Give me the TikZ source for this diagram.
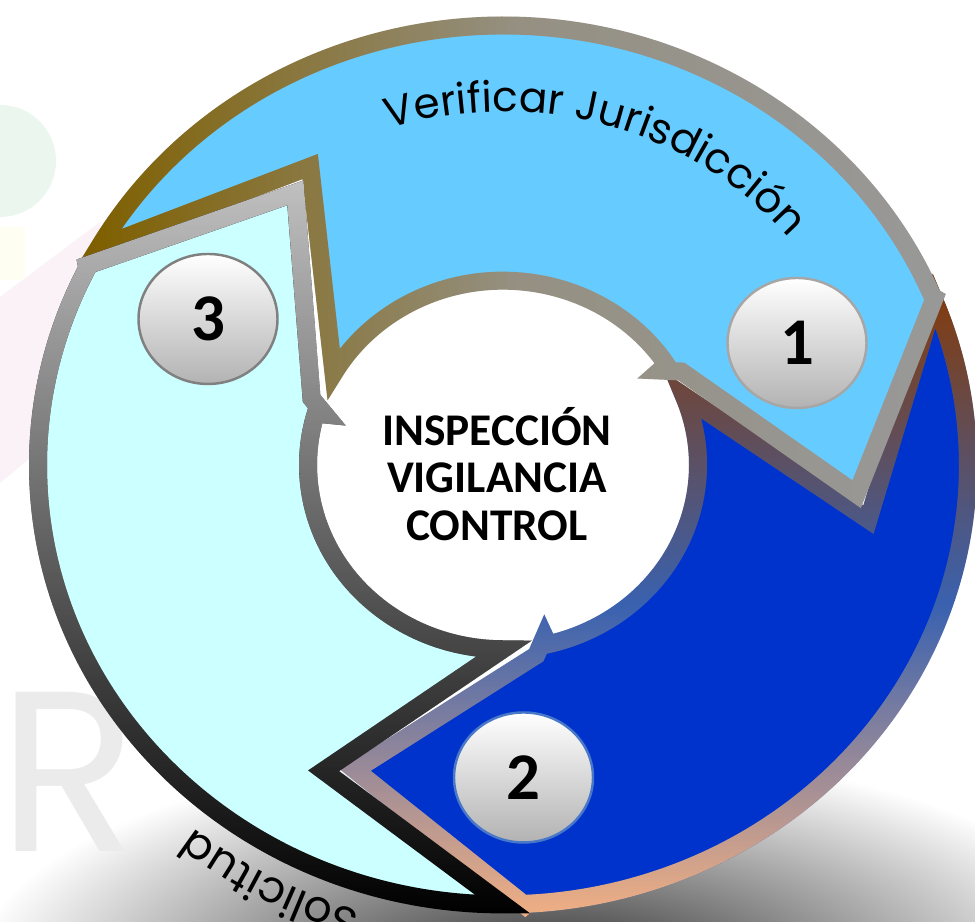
\documentclass[tikz,border=0pt]{standalone}
\usepackage{fontspec}
\setmainfont{Carlito}
\newfontfamily\gothic{Poppins}
\usepackage{tikz}
\usetikzlibrary{positioning}
\usetikzlibrary{shapes,fit}
\usetikzlibrary{decorations.text,fadings}

\definecolor{fillone}{HTML}{66CCFF}
\definecolor{filltwo}{HTML}{0033CC}
\definecolor{fillthree}{HTML}{CCFFFF}
\definecolor{lineolive}{HTML}{7F6000}
\definecolor{linegray}{HTML}{999999}
\definecolor{linebrown}{HTML}{843C0C}
\definecolor{lineblue}{HTML}{3A62B0}
\definecolor{linepeach}{HTML}{F4B183}
\definecolor{linelight}{HTML}{C0C0C0}
\definecolor{wmgreen}{HTML}{EAF6EE}
\definecolor{wmyellow}{HTML}{FFFEF3}
\definecolor{wmpink}{HTML}{FBF2F7}

\tikzfading[name=fadeleft, left color=transparent!0, right color=transparent!100, middle color=transparent!85]
\tikzfading[name=fadetop, top color=transparent!0, bottom color=transparent!100]
\tikzfading[name=fadetophalf, top color=transparent!0, bottom color=transparent!100, middle color=transparent!100]
\tikzfading[name=fadebothalf, top color=transparent!100, bottom color=transparent!0, middle color=transparent!100]

% one arrow of the cycle: #1 tail angle, #2 tip angle, #3 notch angle
\newcommand{\cyclearrow}[3]{(#1:4.65) arc[start angle=#1, end angle=#2+27.5, radius=4.65]
  -- (#2+28:4.72) -- (#2:3.55) -- (#2+34:2.04) -- (#2+37.5:1.86)
  -- (#2+38:1.95) arc[start angle=#2+38, end angle=#1, radius=1.95] -- (#3:3.70) -- cycle}

\tikzset{
    segline/.style={
           line width=0.18cm,
           line join=miter,
           miter limit=4,
           },
    numball/.style={
           ellipse,
           minimum width=1.39cm,
           minimum height=1.30cm,
           inner sep=0pt,
           top color=white,
           bottom color=black!30,
           line width=0.7pt,
           font=\fontsize{19}{19}\selectfont\bfseries,
           },
    centretext/.style={
           align=center,
           inner sep=0pt,
           font=\fontsize{12.9}{13.6}\selectfont\bfseries,
           },
}

\begin{document}
\begin{tikzpicture}

 \useasboundingbox (0,0) rectangle (9.75,9.22);
 \fill[white] (0,0) rectangle (9.75,9.22);

 % faint logo behind the cycle
 \fill[wmgreen] (0,7.61) circle (0.56);
 \fill[wmyellow] (0,6.42) rectangle (0.25,6.95);
 \fill[wmpink] (0,6.25) -- (1.0,7.0) -- (1.0,5.22) -- (0,4.39) -- cycle;

 % shadow under the ring
 \shade[inner color=black!85, outer color=white] (5.5,-0.55) ellipse (5.8 and 2.3);

 \node[text=black!8,
 font=\gothic\fontsize{65}{65}\selectfont,
 inner sep=0pt] (WMARK) at (0.68,1.50)
 {%
R
 };

 % the three arrows, drawn round the centre
 \begin{scope}[shift={(5.03,4.57)}, yscale=0.945]

 % Second arrow: dark blue, bottom right
 \fill[filltwo] \cyclearrow{22}{-114.6}{-9};
 \draw[segline, lineblue] \cyclearrow{22}{-114.6}{-9};
 \draw[segline, linebrown, path fading=fadetophalf] \cyclearrow{22}{-114.6}{-9};
 \draw[segline, linepeach, path fading=fadebothalf] \cyclearrow{22}{-114.6}{-9};

 % First arrow: light blue, top
 \fill[fillone] \cyclearrow{150.3}{-5}{121.4};
 \draw[segline, linegray] \cyclearrow{150.3}{-5}{121.4};
 \draw[segline, lineolive, path fading=fadeleft] \cyclearrow{150.3}{-5}{121.4};

 % Third arrow: light cyan, left
 \fill[fillthree] \cyclearrow{270}{125.8}{241};
 \draw[segline, black] \cyclearrow{270}{125.8}{241};
 \draw[segline, linelight, path fading=fadetop] \cyclearrow{270}{125.8}{241};

 \end{scope}

 % texts that follow the ring
 \begin{scope}[shift={(5.03,4.57)}]
 \path[decorate, decoration={text along path, text align=center,
   text={|\gothic\fontsize{12}{14}\selectfont|Verificar Jurisdicción}}]
   (133.5:3.74 and 3.534) arc[start angle=133.5, end angle=13.5, x radius=3.74, y radius=3.534];
 \path[decorate, decoration={text along path, text align=center,
   text={|\gothic\fontsize{12.6}{14}\selectfont|Solicitud}}]
   (265:4.93 and 4.66) arc[start angle=265, end angle=219, x radius=4.93, y radius=4.66];
 \end{scope}

 % Centre node
 \node[centretext] (CENTER) at (4.97,4.48)
 {%
 INSPECCIÓN\\
 VIGILANCIA\\
 CONTROL
 };

 % Number nodes
 \node[numball, draw=black!35] (NUMONE) at (7.97,5.79) {1};
 \node[numball, draw={rgb,255:red,74;green,120;blue,200}] (NUMTWO) at (5.235,1.445) {2};
 \node[numball, draw=black!50] (NUMTHREE) at (2.08,6.03) {3};

\end{tikzpicture}
\end{document}
